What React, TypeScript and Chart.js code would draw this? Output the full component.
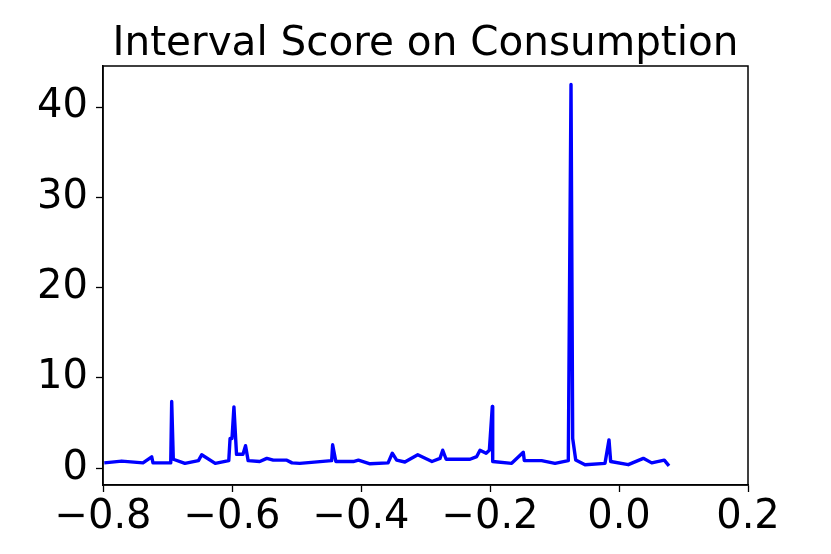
import React, { useEffect, useRef } from "react";
import { Chart, registerables } from "chart.js";

Chart.register(...registerables);

const TITLE = "Interval Score on Consumption";

const xValues: number[] = [
  -0.798, -0.771, -0.738, -0.7245, -0.7225, -0.695, -0.6935, -0.691, -0.673, -0.652,
  -0.647, -0.626, -0.605, -0.603, -0.6, -0.597, -0.593, -0.583, -0.579, -0.575,
  -0.557, -0.546, -0.536, -0.515, -0.507, -0.495, -0.4455, -0.444, -0.439, -0.412,
  -0.404, -0.386, -0.358, -0.3515, -0.3447, -0.332, -0.312, -0.29, -0.2775, -0.2733,
  -0.268, -0.231, -0.2206, -0.2155, -0.206, -0.201, -0.1964, -0.1958, -0.1664, -0.1484,
  -0.1468, -0.12, -0.0992, -0.0786, -0.0744, -0.0718, -0.0671, -0.0527, -0.0217, -0.0155,
  -0.0129, 0.0144, 0.0377, 0.0507, 0.0702, 0.0775,
];

const scoreValues: number[] = [
  0.6, 0.8, 0.6, 1.27, 0.6, 0.6, 7.4, 1.0, 0.55, 0.85,
  1.5, 0.55, 0.85, 3.3, 3.3, 6.8, 1.55, 1.55, 2.5, 0.85,
  0.75, 1.1, 0.9, 0.9, 0.6, 0.55, 0.85, 2.6, 0.75, 0.75,
  0.9, 0.5, 0.6, 1.67, 0.9, 0.7, 1.5, 0.75, 1.1, 2.0,
  1.0, 1.0, 1.3, 2.0, 1.67, 2.0, 6.85, 0.75, 0.55, 1.78,
  0.85, 0.85, 0.55, 0.85, 42.5, 3.3, 0.93, 0.4, 0.55, 3.15,
  0.75, 0.4, 1.1, 0.6, 0.9, 0.27,
];

const xTicks: number[] = [-0.8, -0.6, -0.4, -0.2, 0.0, 0.2];
const yTicks: number[] = [0, 10, 20, 30, 40];

const FONT = "'DejaVu Sans', sans-serif";

const fmt = (v: number, digits: number) => {
  const s = Math.abs(v) < 1e-9 ? (0).toFixed(digits) : v.toFixed(digits);
  return s.replace("-", "\u2212");
};

export default function App() {
  const ref = useRef<HTMLCanvasElement | null>(null);

  useEffect(() => {
    if (!ref.current) return;
    const framePlugin = {
      id: "frameAndTitle",
      afterDraw(chart: any) {
        const { ctx, chartArea } = chart;
        ctx.save();
        ctx.strokeStyle = "#000";
        ctx.lineWidth = 1.5;
        ctx.strokeRect(chartArea.left, chartArea.top, chartArea.right - chartArea.left, chartArea.bottom - chartArea.top);
        ctx.fillStyle = "#000";
        ctx.font = `40.5px ${FONT}`;
        ctx.textAlign = "center";
        ctx.textBaseline = "alphabetic";
        ctx.fillText(TITLE, (chartArea.left + chartArea.right) / 2, 55);
        ctx.restore();
      },
    };

    const chart = new Chart(ref.current, {
      type: "line",
      data: {
        datasets: [
          {
            data: xValues.map((x, i) => ({ x, y: scoreValues[i] })),
            borderColor: "#0000ff",
            borderWidth: 3.4,
            pointRadius: 0,
            tension: 0,
            fill: false,
            borderJoinStyle: "round",
            borderCapStyle: "butt",
          },
        ],
      },
      options: {
        animation: false,
        responsive: false,
        maintainAspectRatio: false,
        layout: { padding: { left: 0, top: 66, right: 83, bottom: 0 } },
        plugins: {
          legend: { display: false },
          title: { display: false },
          tooltip: { enabled: false },
        },
        scales: {
          x: {
            type: "linear",
            min: -0.8,
            max: 0.2,
            afterBuildTicks: (scale: any) => {
              scale.ticks = xTicks.map((v) => ({ value: v }));
            },
            afterFit: (scale: any) => {
              scale.height = 69;
            },
            grid: {
              drawOnChartArea: false,
              drawTicks: true,
              tickLength: 7,
              tickColor: "#000",
              tickWidth: 1.3,
            },
            border: { display: true, color: "#000", width: 1.5 },
            ticks: {
              color: "#000",
              font: { family: FONT, size: 40 },
              padding: 2,
              maxRotation: 0,
              autoSkip: false,
              callback: (v: any) => fmt(Number(v), 1),
            },
          },
          y: {
            type: "linear",
            min: -1.85,
            max: 44.55,
            afterBuildTicks: (scale: any) => {
              scale.ticks = yTicks.map((v) => ({ value: v }));
            },
            afterFit: (scale: any) => {
              scale.width = 103;
            },
            grid: {
              drawOnChartArea: false,
              drawTicks: true,
              tickLength: 7,
              tickColor: "#000",
              tickWidth: 1.3,
            },
            border: { display: true, color: "#000", width: 1.5 },
            ticks: {
              color: "#000",
              font: { family: FONT, size: 40 },
              padding: 8,
              autoSkip: false,
              callback: (v: any) => fmt(Number(v), 0),
            },
          },
        },
      },
      plugins: [framePlugin],
    });
    return () => chart.destroy();
  }, []);

  return (
    <div style={{ position: "fixed", left: 0, top: 0, width: 831, height: 554, background: "#fff" }}>
      <canvas ref={ref} width={831} height={554} style={{ width: 831, height: 554, display: "block" }} />
    </div>
  );
}
